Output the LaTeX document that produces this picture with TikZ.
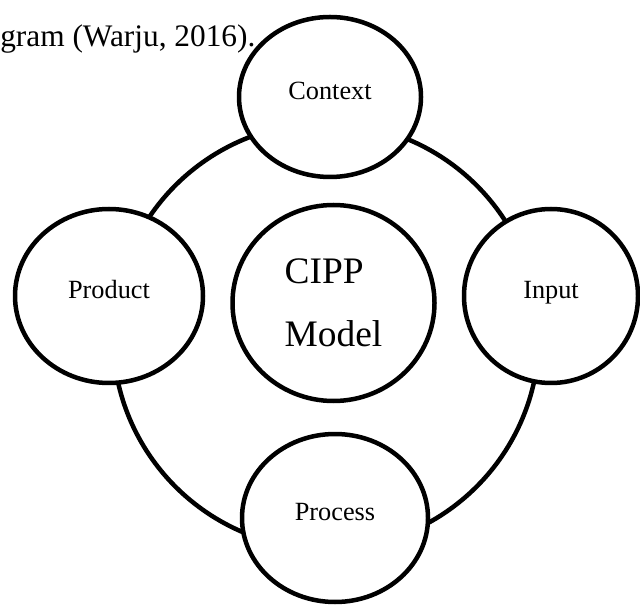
\documentclass[tikz,border=0pt]{standalone}
\usepackage{fontspec}
\setmainfont{Liberation Serif}
\usetikzlibrary{shapes.geometric}

\tikzset{
  stage/.style={ellipse,draw,fill=white,line width=3.2pt,inner sep=0pt,
                text height=0.7em,text depth=0.35em,
                font=\fontsize{18.7}{22}\selectfont},
  ring/.style={line width=3.2pt}
}

\begin{document}
\begin{tikzpicture}
                \useasboundingbox (0,0) rectangle (16,15.125);
                \node[anchor=base west,inner sep=0pt,font=\fontsize{22.3}{26}\selectfont] (cap) at (0,13.95) {gram (Warju, 2016).};
                \coordinate (hub) at (8.15,6.725);
                \draw[ring] (hub) circle (5.325);
                \node[stage,minimum width=4.55cm,minimum height=4.0cm] (context) at (8.25,12.7) {Context};
                \node[stage,minimum width=4.35cm,minimum height=4.35cm] (input) at (13.775,7.725) {Input};
                \node[stage,minimum width=4.65cm,minimum height=4.2cm] (process) at (8.375,2.175) {Process};
                \node[stage,minimum width=4.7cm,minimum height=4.35cm] (product) at (2.725,7.725) {Product};
                \node[ellipse,draw,fill=white,line width=3.2pt,inner sep=0pt,
                      minimum width=5.05cm,minimum height=4.9cm,align=left,
                      font=\fontsize{26.6}{44.8}\selectfont] (cipp) at (8.3375,7.55) {CIPP\\Model};
            \end{tikzpicture}
\end{document}
